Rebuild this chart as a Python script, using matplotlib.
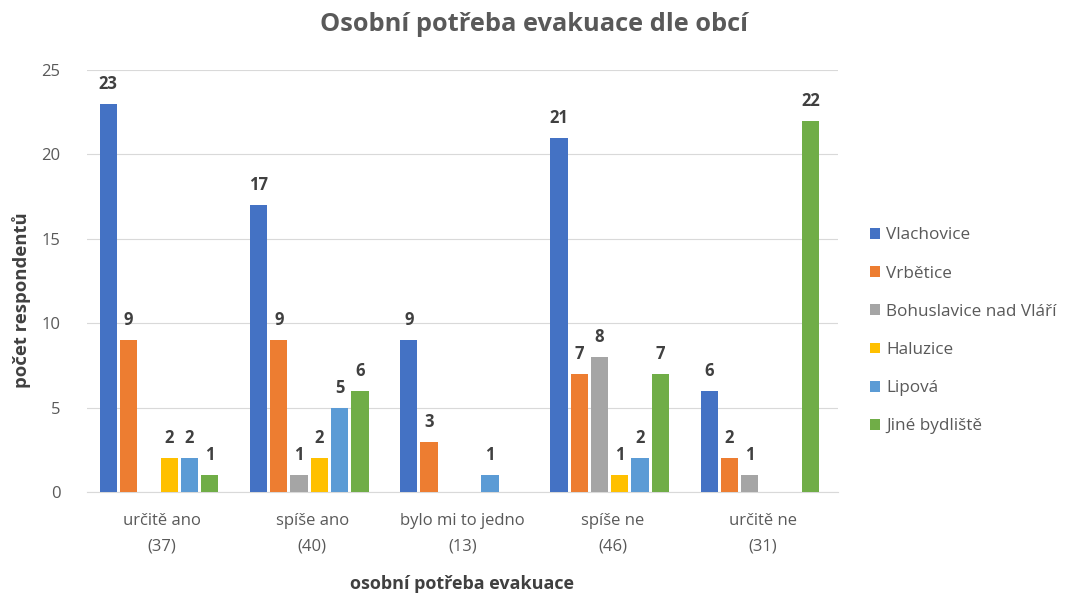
import matplotlib.pyplot as plt
import numpy as np
from matplotlib.patches import Patch

plt.rcParams['font.family'] = ['Open Sans', 'DejaVu Sans']

categories = ['určitě ano\n(37)', 'spíše ano\n(40)', 'bylo mi to jedno\n(13)', 'spíše ne\n(46)', 'určitě ne\n(31)']
series_names = ['Vlachovice', 'Vrbětice', 'Bohuslavice nad Vláří', 'Haluzice', 'Lipová', 'Jiné bydliště']
vlachovice = [23, 17, 9, 21, 6]
vrbetice = [9, 9, 3, 7, 2]
bohuslavice = [0, 1, 0, 8, 1]
haluzice = [2, 2, 0, 1, 0]
lipova = [2, 5, 1, 2, 0]
jine = [1, 6, 0, 7, 22]
colors = ['#4472C4', '#ED7D31', '#A5A5A5', '#FFC000', '#5B9BD5', '#70AD47']

series = [vlachovice, vrbetice, bohuslavice, haluzice, lipova, jine]

fig = plt.figure(figsize=(10.73, 5.93), dpi=100)
ax = fig.add_axes([0.081, 0.170, 0.700, 0.712])

x = np.arange(len(categories))
step = 0.135
width = 0.115
for i, (vals, name, c) in enumerate(zip(series, series_names, colors)):
    pos = x + (i - 2.5) * step - 0.02
    bars = ax.bar(pos, vals, width, color=c, label=name, zorder=3)
    for b, v in zip(bars, vals):
        if v > 0:
            ax.text(b.get_x() + b.get_width() / 2, v + 0.65, str(v), ha='center', va='bottom',
                    fontsize=12, fontweight='bold', color='#404040')

ax.set_xlim(-0.5, 4.5)
ax.set_ylim(0, 25)
ax.set_yticks([0, 5, 10, 15, 20, 25])
ax.set_xticks(x)
ax.set_xticklabels(categories, fontsize=12, color='#595959', linespacing=1.75)
ax.tick_params(axis='y', labelsize=12, labelcolor='#595959', length=0, pad=19)
ax.tick_params(axis='x', length=0, pad=15)
ax.grid(axis='y', color='#D9D9D9', linewidth=0.8, zorder=0)
for s in ['top', 'right', 'left']:
    ax.spines[s].set_visible(False)
ax.spines['bottom'].set_color('#D9D9D9')

ax.set_ylabel('počet respondentů', fontsize=13.3, fontweight='bold', color='#404040')
ax.yaxis.set_label_coords(-0.074, 0.455)
ax.set_xlabel('osobní potřeba evakuace', fontsize=13, fontweight='bold', color='#404040')
ax.xaxis.set_label_coords(0.5, -0.197)
fig.text(0.498, 0.958, 'Osobní potřeba evakuace dle obcí', fontsize=18.3, fontweight='bold',
         color='#595959', ha='center', va='center')

handles = [Patch(facecolor=c, label=n) for c, n in zip(colors, series_names)]
fig.legend(handles=handles, loc='center left', bbox_to_anchor=(0.811, 0.442), frameon=False,
           fontsize=12.3, labelcolor='#595959', handlelength=0.6, handleheight=0.6,
           handletextpad=0.35, labelspacing=1.3, borderpad=0, borderaxespad=0)

fig.savefig('out.png', dpi=100)
